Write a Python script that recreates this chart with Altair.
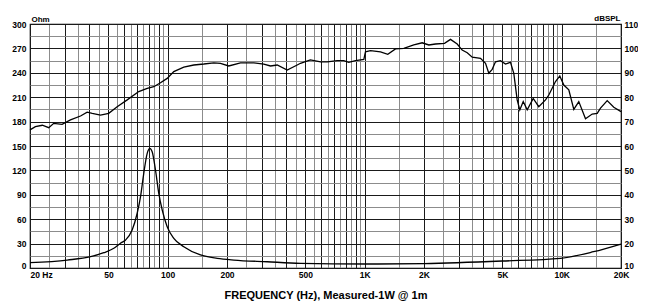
import altair as alt
import pandas as pd

# ---- SPL curve (right axis, dB) ----
spl_freq = [20, 21.3, 23.1, 24.9, 26.4, 29.1, 32.1, 36.1, 39.0, 41.4, 45.6, 50.2, 55.4, 62.3,
            71.3, 78.7, 85.0, 91.9, 99.4, 107.4, 120.7, 135.7, 152.5, 171.4, 185.4, 204.2,
            234.2, 273.6, 307.6, 332.6, 359.6, 404.2, 454.4, 472, 530, 597, 645, 725, 783,
            830, 898, 990, 1009, 1070, 1203, 1310, 1433, 1580, 1775, 1958, 2116, 2288, 2542,
            2726, 2948, 3124, 3315, 3515, 3872, 4105, 4266, 4438, 4612, 4890, 5184, 5497,
            5712, 5943, 6128, 6378, 6683, 7168, 7650, 8276, 8602, 9302, 9782, 10250, 10866,
            11520, 12212, 13208, 14284, 15146, 15740, 17022, 18386, 20000]
spl_db = [66.6, 67.9, 68.5, 67.5, 69.3, 68.9, 70.7, 72.3, 73.9, 73.4, 72.7, 73.4, 76.1, 78.9,
          82.3, 83.6, 84.3, 85.9, 87.7, 90.5, 92.3, 93.2, 93.6, 94.1, 93.9, 92.8,
          94.1, 94.1, 93.6, 92.8, 93.2, 91.1, 93.2, 93.9, 95.3, 94.5, 94.5, 95.0, 95.0,
          94.3, 95.0, 95.5, 98.6, 99.1, 98.6, 97.6, 99.8, 100.0, 101.4, 102.3, 101.4, 101.8, 102.1,
          103.7, 101.8, 99.3, 98.2, 96.4, 95.9, 93.9, 89.8, 91.4, 94.5, 95.0, 93.6, 94.3,
          89.8, 78.9, 74.8, 78.2, 74.8, 79.5, 76.1, 78.9, 80.9, 86.4, 88.7, 85.0, 83.0,
          75.0, 78.2, 71.2, 73.1, 73.4, 75.5, 78.6, 75.9, 74.1]

# ---- Impedance curve (left axis, Ohm) ----
imp_freq = [20, 30.9, 40.6, 47.4, 53.3, 57.6, 61.1, 66.0, 70.0, 72.8, 75.6, 78.7, 81.1, 83.4,
            86.7, 90.1, 93.8, 99.4, 107.4, 120.7, 146.7, 178.4, 216.6, 320, 472, 1000, 2000,
            5000, 9860, 14500, 20000]
imp_ohm = [6.5, 9.8, 13.9, 18.8, 24.2, 30.4, 34.4, 46.7, 67.3, 87.7, 116.4, 141.0, 147.2, 143.0,
           120.5, 91.8, 71.3, 50.8, 36.5, 26.2, 16.0, 11.9, 9.8, 7.7, 5.8, 4.9, 5.5,
           8.6, 11.9, 20.0, 29.5]

# ---- axis ticks / labels ----
x_major = [20, 30, 40, 50, 60, 70, 80, 90, 100, 200, 300, 400, 500, 600, 700, 800, 900, 1000,
           2000, 3000, 4000, 5000, 6000, 7000, 8000, 9000, 10000, 20000]
x_minor = [25, 35, 45, 55, 65, 75, 85, 95, 150, 250, 350, 450, 550, 650, 750, 850, 950,
           1500, 2500, 3500, 4500, 5500, 6500, 7500, 8500, 9500, 15000]
x_label_values = [20, 50, 100, 200, 500, 1000, 2000, 5000, 10000, 20000]
x_label_text = ["20 Hz", "50", "100", "200", "500", "1K", "2K", "5K", "10K", "20K"]
ohm_ticks = list(range(0, 301, 15))
db_ticks = list(range(10, 111, 10))

FONT = "Liberation Sans"
DARK = "#1a1a1a"
GRAY = "#8c8c8c"

spl = pd.DataFrame({"freq": spl_freq, "db": spl_db})
imp = pd.DataFrame({"freq": imp_freq, "ohm": imp_ohm})

label_expr = " : ".join(
    f"datum.value == {v} ? '{t}'" for v, t in zip(x_label_values, x_label_text)
) + " : ''"
minor_str = ",".join(str(v) for v in x_minor)

x_axis = alt.Axis(
    values=sorted(x_major + x_minor),
    labelExpr=label_expr,
    labelFlush=False,
    labelOverlap=False,
    ticks=False,
    domain=False,
    grid=True,
    gridColor={"condition": {"test": f"indexof([{minor_str}], datum.value) >= 0", "value": GRAY},
               "value": DARK},
    gridWidth=1,
    labelFont=FONT,
    labelFontSize=8.5,
    labelFontWeight="bold",
    labelColor="#000",
    labelPadding=2,
    labelAlign={"condition": {"test": "datum.value == 20", "value": "left"}, "value": "center"},
    title="FREQUENCY (Hz), Measured-1W @ 1m",
    titleFont=FONT,
    titleFontSize=11,
    titleFontWeight="bold",
    titleColor="#000",
    titlePadding=11,
)
x_enc = alt.X("freq:Q", scale=alt.Scale(type="log", domain=[20, 20000], nice=False), axis=x_axis)

left_axis = alt.Axis(
    values=ohm_ticks,
    labelExpr="datum.value % 30 == 0 ? datum.label : ''",
    ticks=False,
    domain=False,
    grid=True,
    gridColor={"condition": {"test": "datum.value % 30 != 0", "value": GRAY}, "value": DARK},
    gridWidth=1,
    labelFont=FONT,
    labelFontSize=8.5,
    labelFontWeight="bold",
    labelColor="#000",
    labelPadding=4,
    labelBaseline={"condition": {"test": "datum.value == 0", "value": "alphabetic"}, "value": "middle"},
    title="Ohm",
    titleAngle=0,
    titleX=1,
    titleY=-3,
    titleAlign="left",
    titleBaseline="alphabetic",
    titleFont=FONT,
    titleFontSize=8,
    titleFontWeight="bold",
    titleColor="#000",
)
right_axis = alt.Axis(
    orient="right",
    values=db_ticks,
    ticks=False,
    domain=False,
    grid=False,
    labelFont=FONT,
    labelFontSize=8.5,
    labelFontWeight="bold",
    labelColor="#000",
    labelPadding=3,
    labelBaseline={"condition": {"test": "datum.value == 10", "value": "alphabetic"}, "value": "middle"},
    title="dBSPL",
    titleAngle=0,
    titleX=-1,
    titleY=-4,
    titleAlign="right",
    titleBaseline="alphabetic",
    titleFont=FONT,
    titleFontSize=8,
    titleFontWeight="bold",
    titleColor="#000",
)

imp_line = alt.Chart(imp).mark_line(color="#000", strokeWidth=1.3, interpolate="monotone").encode(
    x=x_enc,
    y=alt.Y("ohm:Q", scale=alt.Scale(domain=[0, 300], nice=False, zero=False), axis=left_axis),
)
spl_line = alt.Chart(spl).mark_line(color="#000", strokeWidth=1.3).encode(
    x=x_enc,
    y=alt.Y("db:Q", scale=alt.Scale(domain=[10, 110], nice=False, zero=False), axis=right_axis),
)

chart = (
    alt.layer(imp_line, spl_line)
    .resolve_scale(y="independent")
    .properties(
        width=591,
        height=244,
        autosize=alt.AutoSizeParams(type="none"),
        padding={"left": 22, "top": 16, "right": 17, "bottom": 40},
        background="#ffffff",
    )
    .configure_view(stroke="#000", strokeWidth=1.2)
)

chart.save("out.html", embed_options={"renderer": "svg", "actions": False})
